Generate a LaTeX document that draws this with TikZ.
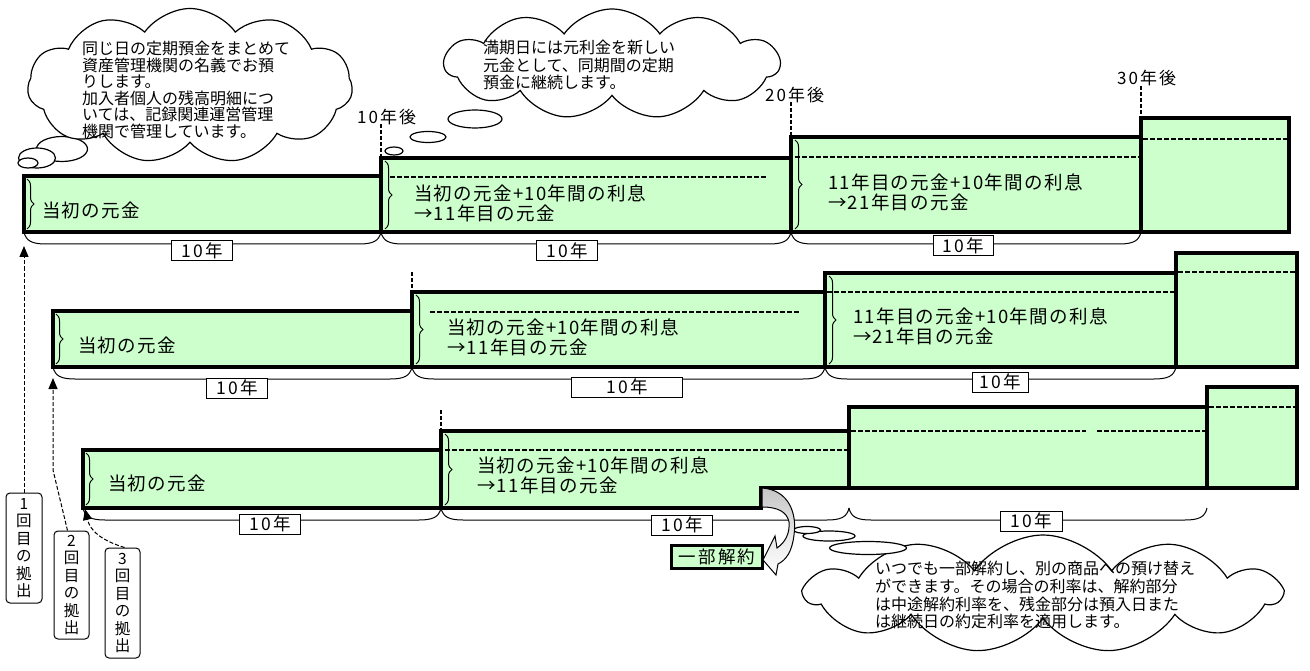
\documentclass[tikz,border=0pt]{standalone}
\usepackage{fontspec}
\setmainfont{Noto Sans CJK JP}
\usetikzlibrary{shapes.symbols,shapes.geometric,decorations.pathreplacing,arrows.meta}
\definecolor{boxgreen}{HTML}{CCFFCC}
\newcommand\botbrace[7]{%
  \draw[line width=1pt] (#1,#3) .. controls (#1+2,#3+9) and (#1+8,#3+12) .. (#1+22,#3+12)
     -- (#2-22,#3+12) .. controls (#2-8,#3+12) and (#2-2,#3+9) .. (#2,#3);
  \node[lbl, minimum width=#6] (#7) at (#4,#5) {10年};
}
\begin{document}
\begin{tikzpicture}[x=1pt,y=-1pt,
  acct/.style={fill=boxgreen, draw=black, line width=3.5pt, line join=miter},
  innerline/.style={dash pattern=on 5pt off 2pt, line width=1.3pt},
  tickline/.style={dash pattern=on 4pt off 2pt, line width=1.3pt},
  btxt/.style={font=\fontsize{18.5}{20}\selectfont\addfontfeature{LetterSpace=7}, anchor=west, inner sep=0pt, align=left},
  yrtxt/.style={font=\fontsize{17}{18}\selectfont\addfontfeature{LetterSpace=12}, anchor=west, inner sep=0pt},
  lbl/.style={draw, fill=white, line width=1pt, font=\fontsize{17.5}{18}\selectfont\addfontfeature{LetterSpace=12}, inner sep=1pt, minimum height=20pt},
  lbrace/.style={decorate, decoration={brace, amplitude=7pt}, line width=1pt},
  thought/.style={cloud, draw, line width=1.2pt, fill=white, cloud puffs=11, cloud puff arc=110, cloud ignores aspect, inner sep=0pt},
  bubble/.style={ellipse, draw, line width=1.2pt, fill=white, inner sep=0pt},
  ctext/.style={font=\fontsize{16}{17}\selectfont, align=left, anchor=north west, inner sep=0pt},
  vbox/.style={draw, rounded corners=4pt, line width=1pt, align=center, font=\fontsize{15.5}{17.5}\selectfont, inner sep=1pt, minimum width=36pt, minimum height=110pt},
  contrib/.style={dash pattern=on 4pt off 2pt, line width=1pt, -{Triangle[length=11pt,width=9pt]}},
]
\useasboundingbox (0,0) rectangle (1310,671);

% ---------- clouds (behind) ----------
\node[bubble, minimum width=51pt, minimum height=25pt] (e1a) at (62,149) {};
\node[thought, minimum width=325pt, minimum height=155pt] (cl1) at (190,86) {};
\node[bubble, minimum width=37pt, minimum height=20pt] (e1b) at (37,158) {};
\node[bubble, minimum width=20pt, minimum height=10pt] (e1c) at (28,163) {};
\node[ctext, font=\fontsize{16}{16.5}\selectfont] (ct1) at (82,41) {同じ日の定期預金をまとめて\\資産管理機関の名義でお預\\りします。\\加入者個人の残高明細につ\\いては、記録関連運営管理\\機関で管理しています。};

\node[thought, minimum width=335pt, minimum height=110pt] (cl2) at (612,64) {};
\node[bubble, minimum width=54pt, minimum height=18pt] (e2a) at (475,119) {};
\node[bubble, minimum width=36pt, minimum height=11pt] (e2b) at (428,137) {};
\node[bubble, minimum width=18pt, minimum height=8pt] (e2c) at (394,151) {};
\node[ctext, font=\fontsize{16}{17.5}\selectfont] (ct2) at (483,40) {満期日には元利金を新しい\\元金として、同期間の定期\\預金に継続します。};

% ---------- Row 1 ----------
\draw[acct] (24,176) rectangle (381,232);
\draw[acct] (381,158) rectangle (791,232);
\draw[acct] (791,137) rectangle (1141,232);
\draw[acct] (1141,118) rectangle (1289,232);
\draw[innerline] (390,177) -- (767,177);
\draw[innerline] (795,157) -- (1139,157);
\draw[innerline] (1143,139) -- (1287,139);
\draw[lbrace] (27,179) -- (27,229);
\draw[lbrace] (385,161) -- (385,229);
\draw[lbrace] (795,140) -- (795,229);
\node[btxt] (a1) at (42,210) {当初の元金};
\node[btxt] (a2) at (414,203) {当初の元金+10年間の利息\\→11年目の元金};
\node[btxt] (a3) at (828,192) {11年目の元金+10年間の利息\\→21年目の元金};
\botbrace{24}{381}{232}{202}{251}{61pt}{l11}
\botbrace{381}{791}{232}{567}{251}{61pt}{l12}
\botbrace{791}{1141}{232}{963}{246}{60pt}{l13}

\node[yrtxt] (y10) at (357,117) {10年後};
\node[yrtxt] (y20) at (765,95) {20年後};
\node[yrtxt] (y30) at (1117,78) {30年後};
\draw[tickline] (381,124) -- (381,157);
\draw[tickline] (791,102) -- (791,136);
\draw[tickline] (1141,86) -- (1141,117);

% ---------- Row 2 ----------
\draw[acct] (53,311) rectangle (412,367);
\draw[acct] (412,292) rectangle (825,367);
\draw[acct] (825,273) rectangle (1176,367);
\draw[acct] (1176,253) rectangle (1297,367);
\draw[innerline] (430,312) -- (800,312);
\draw[innerline] (827,292) -- (1174,292);
\draw[innerline] (1178,272) -- (1295,272);
\draw[lbrace] (56,314) -- (56,364);
\draw[lbrace] (416,295) -- (416,364);
\draw[lbrace] (829,276) -- (829,364);
\node[btxt] (b1) at (78,345) {当初の元金};
\node[btxt] (b2) at (447,337) {当初の元金+10年間の利息\\→11年目の元金};
\node[btxt] (b3) at (853,326) {11年目の元金+10年間の利息\\→21年目の元金};
\botbrace{53}{412}{367}{237}{388}{61pt}{l21}
\botbrace{412}{825}{367}{627}{387}{111pt}{l22}
\botbrace{825}{1176}{367}{1000}{382}{56pt}{l23}
\draw[tickline] (412,272) -- (412,291);

% ---------- Row 3 ----------
\draw[acct] (83,450) rectangle (441,508);
\draw[acct] (441,431) -- (849,431) -- (849,488) -- (761,488) -- (761,508) -- (441,508) -- cycle;
\draw[acct] (849,407) rectangle (1207,488);
\draw[acct] (1207,387) rectangle (1297,488);
\draw[innerline] (445,450) -- (847,450);
\draw[innerline] (851,431) -- (1086,431);
\draw[innerline] (1097,431) -- (1205,431);
\draw[innerline] (1209,407) -- (1295,407);
\draw[lbrace] (86,453) -- (86,505);
\draw[lbrace] (445,434) -- (445,505);
\node[btxt] (c1) at (108,483) {当初の元金};
\node[btxt] (c2) at (477,475) {当初の元金+10年間の利息\\→11年目の元金};
\botbrace{83}{441}{508}{270}{524}{61pt}{l31}
\botbrace{441}{849}{508}{682}{525}{61pt}{l32}
\botbrace{849}{1207}{508}{1031}{521}{62pt}{l33}
\draw[tickline] (441,410) -- (441,430);

% ---------- bottom-right cloud ----------
\node[thought, minimum width=475pt, minimum height=118pt] (cl3) at (1043,594) {};
\node[bubble, minimum width=77pt, minimum height=13pt] (e3a) at (868,548) {};
\node[bubble, minimum width=52pt, minimum height=10pt] (e3b) at (829,536) {};
\node[bubble, minimum width=27pt, minimum height=7pt] (e3c) at (807,530) {};
\node[ctext, font=\fontsize{16}{17.7}\selectfont] (ct3) at (875,561) {いつでも一部解約し、別の商品への預け替え\\ができます。その場合の利率は、解約部分\\は中途解約利率を、残金部分は預入日また\\は継続日の約定利率を適用します。};

% ---------- partial cancellation ----------
\node[draw, fill=boxgreen, line width=2.5pt, minimum width=91pt, minimum height=23pt, inner sep=0pt,
      font=\fontsize{17.5}{18}\selectfont\addfontfeature{LetterSpace=12}] (cancel) at (717,557) {一部解約};
\draw[line width=1pt, top color=gray!45, bottom color=white, middle color=gray!20]
  (762,488) .. controls (790,490) and (797,515) .. (794,535)
  .. controls (792,552) and (786,560) .. (778,564) -- (776,575) -- (763,560) -- (775,536) -- (777,548)
  .. controls (786,542) and (790,532) .. (789,522)
  .. controls (787,512) and (778,507) .. (762,507) -- cycle;

% ---------- contribution arrows ----------
\node[vbox] (v1) at (24,548) {1\\回\\目\\の\\拠\\出};
\node[vbox, minimum width=35pt, minimum height=108pt] (v2) at (71.5,585) {2\\回\\目\\の\\拠\\出};
\node[vbox, minimum width=35pt] (v3) at (122.5,603) {3\\回\\目\\の\\拠\\出};
\coordinate (t1) at (24,246);
\coordinate (t2) at (53,378);
\coordinate (t3) at (85,509);
\draw[contrib] (v1.north) -- (t1);
\draw[contrib] ([xshift=-4pt]v2.north) -- (53,470) -- (t2);
\draw[contrib] ([xshift=2pt]v3.north) .. controls (100,540) and (90,530) .. (t3);
\end{tikzpicture}
\end{document}
